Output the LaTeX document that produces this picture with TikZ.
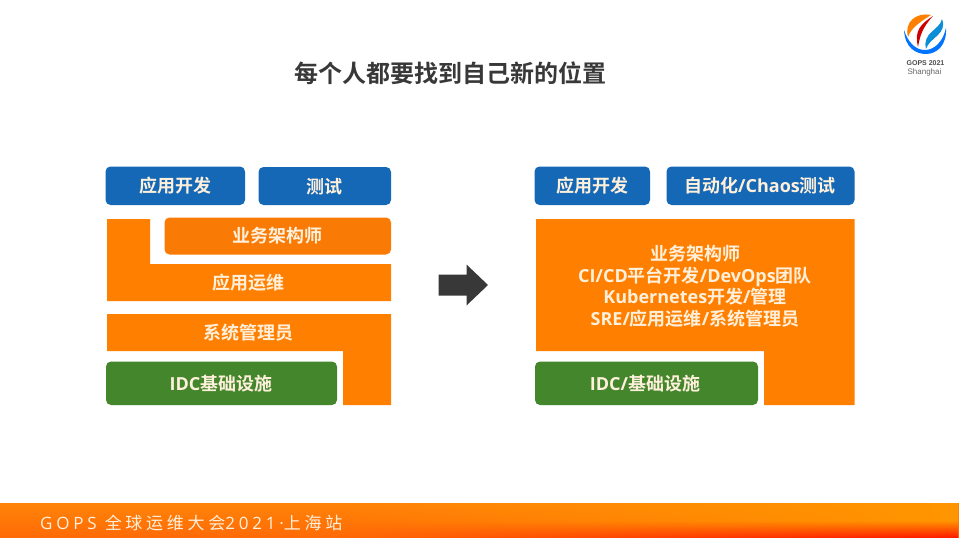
\documentclass[tikz,border=0pt]{standalone}
\usepackage{fontspec}
\usetikzlibrary{fadings}
\setmainfont{Noto Sans CJK SC}[BoldFont={* Bold}]
\newfontfamily\footfont[LetterSpace=22]{Noto Sans CJK SC}
\newfontfamily\footen[LetterSpace=22]{Open Sans}
\newfontfamily\enfont{Open Sans}[BoldFont={* Bold}]
\setsansfont{Liberation Sans}
\definecolor{slideblue}{HTML}{1468B6}
\definecolor{slideorange}{HTML}{FF8000}
\definecolor{slidedeep}{HTML}{F97A05}
\definecolor{slidegreen}{HTML}{43862C}
\definecolor{slidecream}{HTML}{FFF0DC}
\definecolor{footleft}{HTML}{FF8408}
\definecolor{footright}{HTML}{FF9600}
\definecolor{footred}{HTML}{FF1400}
\newcommand{\en}[1]{{\enfont\fontsize{18}{21.5}\selectfont #1}}
\tikzset{
  boxlabel/.style={text=slidecream, font=\fontsize{18}{21.5}\selectfont\bfseries, align=center, inner sep=0pt},
  tagbox/.style={rounded corners=5pt, fill=#1},
}
\begin{document}
\begin{tikzpicture}[x=1pt, y=-1pt]
            \useasboundingbox (0,0) rectangle (959,538);
            % title
            \node[text=black!78, font=\fontsize{24}{28}\selectfont\bfseries, inner sep=0pt] (title) at (450, 73) {每个人都要找到自己新的位置};
            % left stack
            \fill[tagbox=slideblue] (105.5,166.5) rectangle (245,205);
            \fill[tagbox=slideblue] (258.5,167) rectangle (391,205);
            \fill[slideorange] (107,219) -- (150,219) -- (150,264) -- (391,264) -- (391,301) -- (107,301) -- cycle;
            \fill[tagbox=slidedeep] (164.5,217.5) rectangle (391,254.5);
            \fill[slideorange] (107,314) -- (391,314) -- (391,405) -- (343,405) -- (343,351) -- (107,351) -- cycle;
            \fill[tagbox=slidegreen] (106,361.5) rectangle (337,405);
            \node[boxlabel] (devl) at (175, 186) {应用开发};
            \node[boxlabel] (testl) at (324, 187) {测试};
            \node[boxlabel] (bizl) at (277, 236) {业务架构师};
            \node[boxlabel] (opsl) at (248, 283) {应用运维};
            \node[boxlabel] (sysl) at (248, 333) {系统管理员};
            \node[boxlabel] (idcl) at (221, 384) {\en{IDC}基础设施};
            % arrow
            \fill[black!78] (438.5,274.5) -- (466.5,274.5) -- (466.5,264.5) -- (488,285) -- (466.5,305.5) -- (466.5,295.5) -- (438.5,295.5) -- cycle;
            % right stack
            \fill[tagbox=slideblue] (534.5,166.5) rectangle (650,205);
            \fill[tagbox=slideblue] (666.5,166.5) rectangle (854.5,205);
            \fill[slideorange] (536,219) -- (854.5,219) -- (854.5,405) -- (764,405) -- (764,351) -- (536,351) -- cycle;
            \fill[tagbox=slidegreen] (535,361.5) rectangle (758,405);
            \node[boxlabel] (devr) at (592, 186) {应用开发};
            \node[boxlabel] (testr) at (760, 186) {自动化\en{/Chaos}测试};
            \node[boxlabel] (allr) at (695, 286) {业务架构师\\\en{CI/CD}平台开发\en{/DevOps}团队\\\en{Kubernetes}开发\en{/}管理\\\en{SRE/}应用运维\en{/}系统管理员};
            \node[boxlabel] (idcr) at (645, 384) {\en{IDC/}基础设施};
            % footer
            \shade[top color=footleft, bottom color=footleft!80!red] (0,503) rectangle (959,538);
            \shade[path fading=west, top color=footright, bottom color=footred, middle color=footright] (330,503) rectangle (959,538);
            \node[text=slidecream, font=\fontsize{17}{18}\footfont, anchor=west, inner sep=0pt] (foot) at (40, 523) {{\footen GOPS }全球运维大会{\footen 2021·}上海站};
            % logo
            \fill[blue!55!cyan] (904,30) .. controls (905,48) and (916,54) .. (926,54) .. controls (937,54) and (947,45) .. (946,28) .. controls (943,42) and (934,50) .. (925,50) .. controls (915,50) and (908,42) .. (904,30) -- cycle;
            \fill[orange] (931,15) .. controls (916,12) and (904,22) .. (908,37) .. controls (911,28) and (920,22) .. (931,15) -- cycle;
            \fill[red!80!black] (933,16) .. controls (921,24) and (914,30) .. (918,47) .. controls (920,36) and (922,28) .. (933,16) -- cycle;
            \fill[cyan!75!blue] (942,19) .. controls (940,30) and (922,32) .. (926,49) .. controls (929,38) and (948,34) .. (942,19) -- cycle;
            \node[font=\sffamily\bfseries\fontsize{7}{8}\selectfont, text=black!70, inner sep=0pt] (gops) at (925.5, 63) {GOPS 2021};
            \node[font=\sffamily\fontsize{8}{8}\selectfont, text=black!60, inner sep=0pt] (city) at (924.5, 72) {Shanghai};
        \end{tikzpicture}
\end{document}
